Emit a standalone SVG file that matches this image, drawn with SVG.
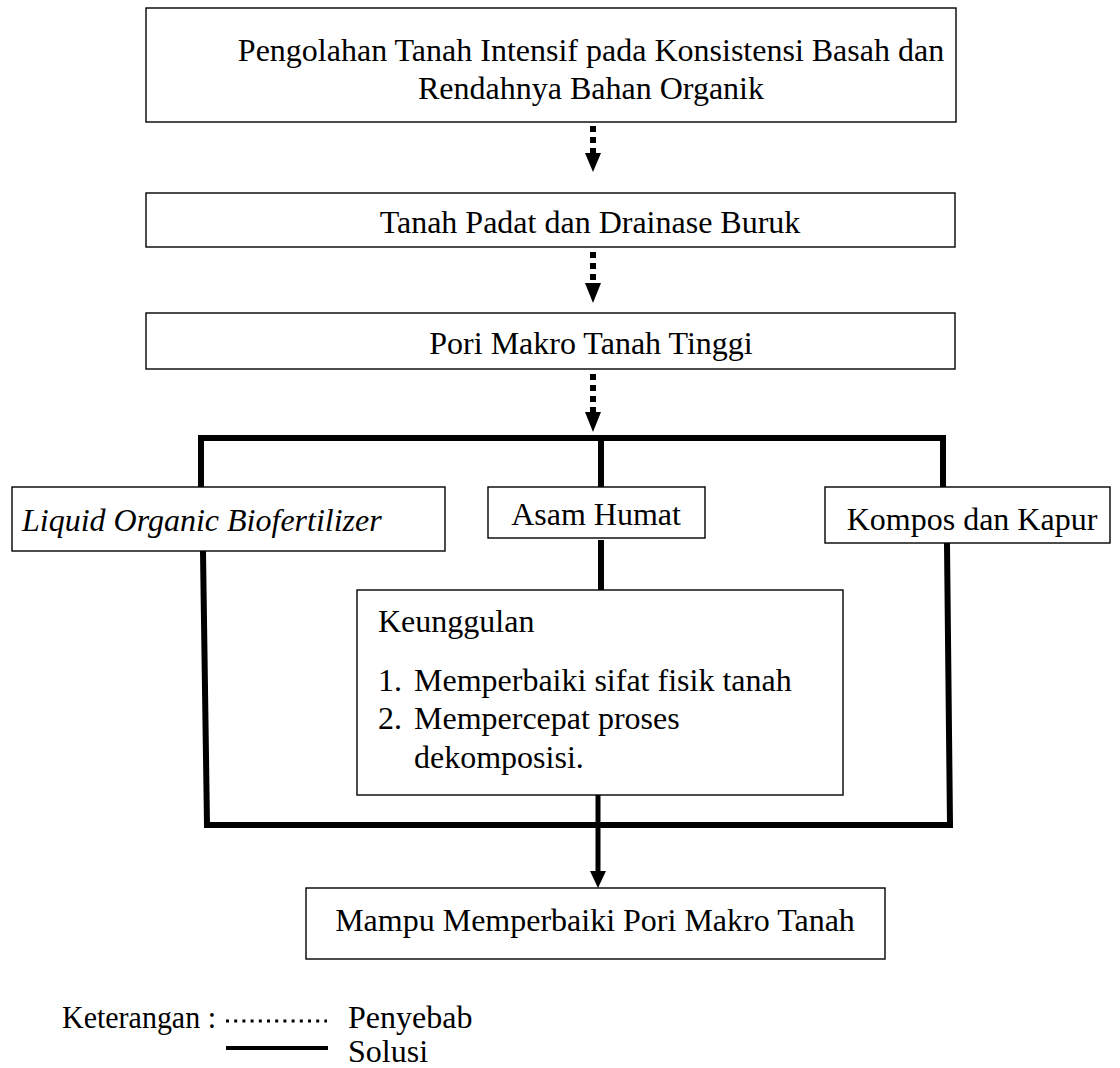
<svg xmlns="http://www.w3.org/2000/svg" width="1120" height="1068" viewBox="0 0 1120 1068">
<style>
.box{fill:#fff;stroke:#000;stroke-width:1.4}
.t{font-family:'Liberation Serif',Tinos,'Times New Roman',Times,'DejaVu Serif',serif;font-size:32px;fill:#000}
.c{text-anchor:middle}
.it{font-style:italic}
.dot{stroke:#000;stroke-width:6;stroke-dasharray:6 5;fill:none}
.sol{stroke:#000;stroke-width:6;fill:none;stroke-linecap:square}
</style>
<rect width="1120" height="1068" fill="#fff"/>
<g id="connectors">
<line class="dot" x1="593" y1="126" x2="593" y2="154"/>
<path d="M585,153 L601,153 L593,172 Z" fill="#000"/>
<line class="dot" x1="593" y1="252" x2="593" y2="284"/>
<path d="M585,283 L601,283 L593,303 Z" fill="#000"/>
<line class="dot" x1="593" y1="374" x2="593" y2="413"/>
<path d="M585,412 L601,412 L593,432 Z" fill="#000"/>
<polyline class="sol" points="201,487 201,438 943,438 943,487"/>
<line class="sol" x1="601" y1="438" x2="601" y2="487"/>
<line class="sol" x1="601" y1="543" x2="601" y2="590"/>
<polyline class="sol" points="203,552 207,825 950,825 947,544"/>
<line class="sol" x1="598" y1="795" x2="598" y2="872" style="stroke-linecap:butt;stroke-width:5"/>
<path d="M590,871 L606,871 L598,888 Z" fill="#000"/>
</g>
<g id="n1"><rect class="box" x="146" y="8" width="810" height="114"/>
<text class="t c" x="591" y="61">Pengolahan Tanah Intensif pada Konsistensi Basah dan</text>
<text class="t c" x="591" y="99">Rendahnya Bahan Organik</text></g>
<g id="n2"><rect class="box" x="146" y="193" width="809" height="54"/>
<text class="t c" x="590" y="233">Tanah Padat dan Drainase Buruk</text></g>
<g id="n3"><rect class="box" x="146" y="313" width="809" height="56"/>
<text class="t c" x="591" y="354">Pori Makro Tanah Tinggi</text></g>
<g id="n4"><rect class="box" x="12" y="487" width="433" height="64"/>
<text class="t it" x="22" y="531">Liquid Organic Biofertilizer</text></g>
<g id="n5"><rect class="box" x="488" y="487" width="217" height="51"/>
<text class="t c" x="596" y="525">Asam Humat</text></g>
<g id="n6"><rect class="box" x="825" y="487" width="285" height="56"/>
<text class="t c" x="972" y="530">Kompos dan Kapur</text></g>
<g id="n7"><rect class="box" x="357" y="590" width="486" height="205"/>
<text class="t" x="378" y="632">Keunggulan</text>
<text class="t" x="378" y="691">1.</text><text class="t" x="414" y="691">Memperbaiki sifat fisik tanah</text>
<text class="t" x="378" y="729">2.</text><text class="t" x="414" y="729">Mempercepat proses</text>
<text class="t" x="414" y="768">dekomposisi.</text></g>
<g id="n8"><rect class="box" x="306" y="888" width="579" height="71"/>
<text class="t c" x="595" y="931">Mampu Memperbaiki Pori Makro Tanah</text></g>
<g id="legend">
<text class="t" x="62" y="1028" textLength="154" lengthAdjust="spacingAndGlyphs">Keterangan :</text>
<line x1="226" y1="1021" x2="327" y2="1021" stroke="#000" stroke-width="3" stroke-dasharray="3 5.2"/>
<text class="t" x="348" y="1028">Penyebab</text>
<line x1="226" y1="1048" x2="328" y2="1048" stroke="#000" stroke-width="4"/>
<text class="t" x="348" y="1062">Solusi</text>
</g>
</svg>
